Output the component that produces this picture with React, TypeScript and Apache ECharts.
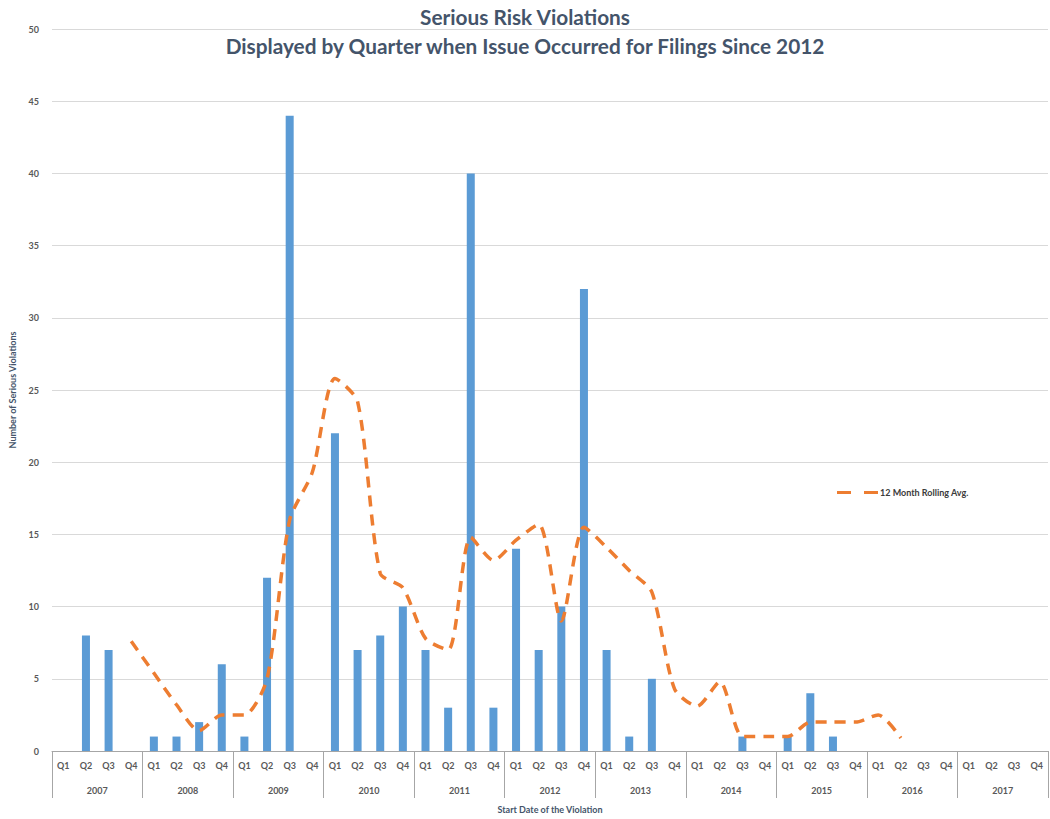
import React, { useEffect, useRef } from "react";
import * as echarts from "echarts";

// Quarter and year labels for the two-level category axis
const quarters = ["Q1", "Q2", "Q3", "Q4"];
const years = ["2007", "2008", "2009", "2010", "2011", "2012", "2013", "2014", "2015", "2016", "2017"];

// Serious violations counted per quarter, 2007 Q1 .. 2017 Q4
const violations = [
  0, 8, 7, 0,
  1, 1, 2, 6,
  1, 12, 44, 0,
  22, 7, 8, 10,
  7, 3, 40, 3,
  14, 7, 10, 32,
  7, 1, 5, 0,
  0, 0, 1, 0,
  1, 4, 1, 0,
  0, 0, 0, 0,
  0, 0, 0, 0,
];

// 12 month rolling average (null where not defined)
const rollingAvg = [
  null, null, null, 7.6,
  5.4, 3.2, 1.4, 2.5,
  2.5, 5, 16, 19.3,
  25.8, 24.2, 12.3, 11.3,
  7.8, 7, 14.8, 13.2,
  14.6, 15.7, 9, 15.5,
  14.1, 12.5, 11, 4.3,
  3.1, 4.8, 1, 1,
  1, 2, 2, 2,
  2.5, 0.9, null, null,
  null, null, null, null,
];

const yTicks = { min: 0, max: 50, interval: 5 };

const categories = years.flatMap((y) => quarters.map((q) => `${q} ${y}`));

const FONT = "Lato, 'Open Sans', sans-serif";
const TEXT = "#44546A";
const LABEL = "#595959";
const AXIS = "#A6A6A6";

// Two short dashes, used as the legend marker of the rolling average
const DASH_ICON = "path://M0,0h14v3h-14z M27,0h14v3h-14z";

export default function App() {
  const ref = useRef<HTMLDivElement>(null);

  useEffect(() => {
    if (!ref.current) return;
    const chart = echarts.init(ref.current, null, { renderer: "svg" });
    chart.setOption({
      animation: false,
      backgroundColor: "#ffffff",
      textStyle: { fontFamily: FONT },
      title: {
        text: "Serious Risk Violations\nDisplayed by Quarter when Issue Occurred for Filings Since 2012",
        left: "center",
        top: -3,
        textStyle: {
          fontFamily: FONT,
          fontSize: 20.8,
          fontWeight: "bold",
          color: TEXT,
          lineHeight: 29,
        },
      },
      legend: {
        left: 832,
        top: 483,
        itemWidth: 41,
        itemHeight: 3.5,
        itemGap: 2,
        textStyle: { fontFamily: FONT, fontSize: 9, fontWeight: "bold", color: "#3B3B3B", padding: [0, 0, 0, -3] },
        data: [{ name: "12 Month Rolling Avg.", icon: DASH_ICON, itemStyle: { color: "#ED7D31" } }],
      },
      grid: { left: 49, right: 2, top: 29, height: 724, containLabel: false },
      xAxis: [
        {
          type: "category",
          data: categories,
          boundaryGap: true,
          axisLine: { show: true, lineStyle: { color: AXIS, width: 1 } },
          axisTick: {
            show: true,
            alignWithLabel: false,
            interval: (i: number) => i % 4 === 0,
            length: 47,
            lineStyle: { color: AXIS, width: 1 },
          },
          axisLabel: {
            interval: 0,
            margin: 10,
            fontFamily: FONT,
            fontSize: 9,
            fontWeight: "bold",
            color: LABEL,
            formatter: (v: string) => v.split(" ")[0],
          },
          splitLine: { show: false },
        },
        {
          type: "category",
          data: years,
          position: "bottom",
          boundaryGap: true,
          axisLine: { show: false },
          axisTick: { show: false },
          axisLabel: {
            interval: 0,
            margin: 35,
            fontFamily: FONT,
            fontSize: 9,
            fontWeight: "bold",
            color: LABEL,
          },
          name: "Start Date of the Violation",
          nameLocation: "middle",
          nameGap: 54,
          nameTextStyle: { fontFamily: FONT, fontSize: 9, fontWeight: "bold", color: TEXT },
        },
      ],
      yAxis: {
        type: "value",
        min: yTicks.min,
        max: yTicks.max,
        interval: yTicks.interval,
        axisLine: { show: false },
        axisTick: { show: false },
        axisLabel: {
          margin: 13,
          fontFamily: FONT,
          fontSize: 9,
          fontWeight: "bold",
          color: LABEL,
        },
        splitLine: { lineStyle: { color: "#D9D9D9", width: 1 } },
        name: "Number of Serious Violations",
        nameLocation: "middle",
        nameGap: 35,
        nameTextStyle: { fontFamily: FONT, fontSize: 9, fontWeight: "bold", color: TEXT },
      },
      series: [
        {
          name: "Serious Violations",
          type: "bar",
          xAxisIndex: 0,
          data: violations,
          barWidth: 8,
          itemStyle: { color: "#5B9BD5" },
        },
        {
          name: "12 Month Rolling Avg.",
          type: "line",
          xAxisIndex: 0,
          data: rollingAvg,
          smooth: 0.25,
          showSymbol: false,
          symbol: "none",
          connectNulls: false,
          lineStyle: { color: "#ED7D31", width: 3.5, type: [11, 8], cap: "butt" },
          itemStyle: { color: "#ED7D31" },
        },
      ],
    });
    return () => chart.dispose();
  }, []);

  return (
    <div
      ref={ref}
      style={{ position: "fixed", left: 0, top: 0, width: 1050, height: 819 }}
    />
  );
}
